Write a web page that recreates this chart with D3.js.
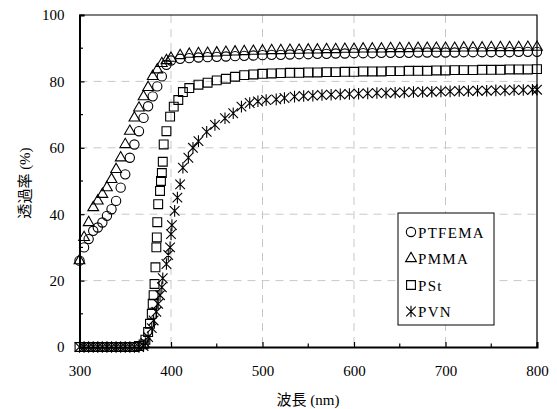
<!DOCTYPE html>
<html>
<head>
<meta charset="utf-8">
<script src="https://cdn.jsdelivr.net/npm/d3@7"></script>
<style>
  body { margin: 0; background: #fff; }
  text { font-family: "Liberation Serif", "Times New Roman", "DejaVu Serif", "Noto Sans CJK JP", serif; fill: #000; }
</style>
</head>
<body>
<div id="root"></div>
<script>
var config = {
  chartWidth: 557,
  chartHeight: 409
};

// wavelength (nm) and transmittance (%) per polymer
const ptfemaX = [300, 305, 310, 315, 320, 325, 330, 335, 340, 345, 350, 355, 360, 365, 370, 375, 380, 385, 390, 395, 400,
  410, 420, 430, 440, 450, 460, 470, 480, 490, 500, 510, 520, 530, 540, 550, 560, 570, 580, 590, 600,
  610, 620, 630, 640, 650, 660, 670, 680, 690, 700, 710, 720, 730, 740, 750, 760, 770, 780, 790, 800];
const ptfemaY = [26, 30, 32.5, 35, 36, 37.5, 39.5, 41.5, 44, 48, 52, 57, 61, 65, 69, 72.5, 75.5, 78.5, 81.5, 85, 86.3,
  86.8, 87, 87.2, 87.3, 87.4, 87.5, 87.6, 87.7, 87.8, 87.9, 88, 88, 88.1, 88.2, 88.2, 88.3, 88.3, 88.4, 88.4, 88.5,
  88.5, 88.5, 88.6, 88.6, 88.6, 88.6, 88.7, 88.7, 88.7, 88.7, 88.7, 88.8, 88.8, 88.8, 88.8, 88.8, 88.8, 88.9, 88.9, 88.9];

const pmmaX = ptfemaX;
const pmmaY = [26, 33, 37.5, 42, 44, 46, 48, 50.5, 53.5, 57, 61, 65, 69, 72, 75.4, 78.2, 81.5, 83.5, 85.4, 86.3, 87,
  87.8, 88.2, 88.4, 88.5, 88.6, 88.8, 88.9, 89, 89.1, 89.2, 89.3, 89.3, 89.4, 89.4, 89.5, 89.5, 89.6, 89.6, 89.7, 89.7,
  89.8, 89.8, 89.8, 89.9, 89.9, 89.9, 90, 90, 90, 90, 90, 90.1, 90.1, 90.1, 90.2, 90.2, 90.2, 90.2, 90.3, 90.3];

const pstX = [300, 305, 310, 315, 320, 325, 330, 335, 340, 345, 350, 355, 360, 365, 370, 372, 375, 377, 379, 380,
  381, 382, 383, 384, 384.5, 385, 386, 388, 389, 390, 391, 392, 395, 399, 403, 408, 413,
  420, 430, 440, 450, 460, 470, 480, 490, 500, 510, 520, 530, 540, 550, 560, 570, 580, 590, 600,
  610, 620, 630, 640, 650, 660, 670, 680, 690, 700, 710, 720, 730, 740, 750, 760, 770, 780, 790, 800];
const pstY = [0, 0, 0, 0, 0, 0, 0, 0, 0, 0, 0, 0, 0, 0.3, 0.8, 2.2, 4.5, 7, 10, 13,
  15.6, 19, 24, 30, 33, 37.6, 43, 47, 50, 52.4, 55.8, 61, 65, 69.4, 72.4, 74.4, 76.8,
  78, 79, 79.6, 80.3, 80.8, 81.4, 81.9, 82.1, 82.3, 82.4, 82.5, 82.6, 82.6, 82.7, 82.7, 82.8, 82.8, 82.9, 82.9,
  83, 83, 83, 83.1, 83.1, 83.2, 83.2, 83.2, 83.3, 83.3, 83.4, 83.4, 83.4, 83.5, 83.5, 83.5, 83.6, 83.6, 83.6, 83.7];

const pvnX = [300, 305, 310, 315, 320, 325, 330, 335, 340, 345, 350, 355, 360, 365, 370, 372, 375, 379, 381, 384,
  386, 388, 390, 391, 395, 397, 399, 400, 401, 404, 407, 410, 413, 419, 424, 430, 439, 448, 459, 468, 477, 486,
  495, 504, 515, 524, 535, 545, 555, 565, 575, 585, 595, 605, 615, 625, 635, 645, 655, 665, 675, 685, 695,
  705, 715, 725, 735, 745, 755, 765, 775, 785, 795, 800];
const pvnY = [0, 0, 0, 0, 0, 0, 0, 0, 0, 0, 0, 0, 0, 0, 0.3, 1.2, 3, 5.7, 8, 10.6,
  13, 15.6, 18, 20.7, 25, 27.7, 30, 34, 36.7, 41, 45, 49, 54, 57, 60, 62, 64.8, 66.9, 68.9, 70.4, 72.4, 73.5,
  74, 74.4, 74.6, 75, 75.4, 75.6, 75.7, 75.9, 76, 76.1, 76.2, 76.3, 76.4, 76.5, 76.5, 76.6, 76.7, 76.8, 76.8, 76.9, 77,
  77, 77.1, 77.1, 77.2, 77.2, 77.3, 77.3, 77.4, 77.4, 77.5, 77.5];

const seriesNames = ['PTFEMA', 'PMMA', 'PSt', 'PVN'];
const xTicks = [300, 400, 500, 600, 700, 800];
const yTicks = [0, 20, 40, 60, 80, 100];
const xLabel = '波長 (nm)';
const yLabel = '透過率 (%)';

const series = [
  {name: seriesNames[0], xs: ptfemaX, ys: ptfemaY, shape: 'circle'},
  {name: seriesNames[1], xs: pmmaX, ys: pmmaY, shape: 'triangle'},
  {name: seriesNames[2], xs: pstX, ys: pstY, shape: 'square'},
  {name: seriesNames[3], xs: pvnX, ys: pvnY, shape: 'star'}
];

const serif = '"Liberation Serif", "Times New Roman", "DejaVu Serif", serif';
const plot = {left: 79.5, right: 537, top: 15, bottom: 347};

const x = d3.scaleLinear().domain([300, 800]).range([plot.left, plot.right]);
const y = d3.scaleLinear().domain([0, 100]).range([plot.bottom, plot.top]);

function markerPath(shape) {
  if (shape === 'circle') return d3.symbol(d3.symbolCircle, 68)();
  if (shape === 'triangle') return d3.symbol(d3.symbolTriangle, 50)();
  if (shape === 'square') return d3.symbol(d3.symbolSquare, 78)();
  // asterisk: X with a vertical bar
  return 'M0,-5.8L0,5.8M-4.8,-4.8L4.8,4.8M-4.8,4.8L4.8,-4.8';
}

const chart = d3.select('#root')
  .append('svg:svg')
  .attr('width', config.chartWidth)
  .attr('height', config.chartHeight);

const layer = {};

// Grid
layer.grid = chart.append('svg:g')
  .attr('stroke', '#c8c8c8')
  .attr('stroke-width', 1)
  .attr('stroke-dasharray', '8,6');
layer.grid.selectAll('.hgrid')
  .data(yTicks.filter(d => d > 0 && d < 100))
  .enter()
    .append('svg:line')
    .attr('x1', plot.left).attr('x2', plot.right)
    .attr('y1', d => y(d)).attr('y2', d => y(d));
layer.grid.selectAll('.vgrid')
  .data(xTicks.filter(d => d > 300 && d < 800))
  .enter()
    .append('svg:line')
    .attr('y1', plot.top).attr('y2', plot.bottom)
    .attr('x1', d => x(d)).attr('x2', d => x(d));

// Frame top / right
chart.append('svg:path')
  .attr('d', `M${plot.left},${plot.top}H${plot.right}V${plot.bottom}`)
  .attr('fill', 'none')
  .attr('stroke', '#000')
  .attr('stroke-width', 1.2);

// Axes with inward ticks
const xAxis = d3.axisBottom(x).tickValues(xTicks).tickSize(-5).tickPadding(14).tickFormat(d3.format('d'));
const yAxis = d3.axisLeft(y).tickValues(yTicks).tickSize(-5).tickPadding(14).tickFormat(d3.format('d'));

layer.xAxis = chart.append('svg:g')
  .attr('transform', `translate(0,${plot.bottom})`)
  .call(xAxis);
layer.yAxis = chart.append('svg:g')
  .attr('transform', `translate(${plot.left},0)`)
  .call(yAxis);

[layer.xAxis, layer.yAxis].forEach(g => {
  g.attr('font-family', serif);
  g.select('.domain').attr('stroke-width', 2).attr('stroke', '#000');
  g.selectAll('.tick line').attr('stroke-width', 1.2).attr('stroke', '#000');
  g.selectAll('.tick text')
    .style('font-family', serif)
    .style('font-size', '15px')
    .attr('fill', '#000');
});
layer.xAxis.selectAll('.tick text').attr('dy', '0.71em').attr('y', 18);
layer.yAxis.selectAll('.tick text').attr('x', -15);

// minor ticks
const xMinor = d3.range(350, 800, 100);
const yMinor = d3.range(10, 100, 20);
chart.append('svg:g').selectAll('line')
  .data(xMinor)
  .enter()
    .append('svg:line')
    .attr('x1', d => x(d)).attr('x2', d => x(d))
    .attr('y1', plot.bottom).attr('y2', plot.bottom - 3.5)
    .attr('stroke', '#000').attr('stroke-width', 1.2);
chart.append('svg:g').selectAll('line')
  .data(yMinor)
  .enter()
    .append('svg:line')
    .attr('y1', d => y(d)).attr('y2', d => y(d))
    .attr('x1', plot.left).attr('x2', plot.left + 3.5)
    .attr('stroke', '#000').attr('stroke-width', 1.2);

// Axis titles
chart.append('svg:text')
  .attr('x', 308).attr('y', 405)
  .attr('text-anchor', 'middle')
  .style('font-size', '15px')
  .text(xLabel);
chart.append('svg:text')
  .attr('transform', 'translate(30,183) rotate(-90)')
  .attr('text-anchor', 'middle')
  .style('font-size', '15px')
  .text(yLabel);

// Markers
layer.points = chart.append('svg:g');
series.forEach(s => {
  const pts = s.xs.map((v, i) => [v, s.ys[i]]);
  layer.points.append('svg:g')
    .selectAll('path')
    .data(pts)
    .enter()
      .append('svg:path')
      .attr('d', markerPath(s.shape))
      .attr('transform', d => `translate(${x(d[0])},${y(d[1])})`)
      .attr('fill', 'none')
      .attr('stroke', '#000')
      .attr('stroke-width', 1.1);
});

// Legend
const legend = chart.append('svg:g').attr('transform', 'translate(398,213)');
legend.append('svg:rect')
  .attr('width', 96).attr('height', 112)
  .attr('fill', '#fff')
  .attr('stroke', '#000')
  .attr('stroke-width', 1);
legend.selectAll('.item')
  .data(series)
  .enter()
    .append('svg:g')
    .attr('transform', (d, i) => `translate(13,${19 + i * 26.5})`)
    .each(function (d) {
      const g = d3.select(this);
      g.append('svg:path')
        .attr('d', markerPath(d.shape))
        .attr('fill', 'none')
        .attr('stroke', '#000')
        .attr('stroke-width', 1.1);
      g.append('svg:text')
        .attr('x', 7).attr('y', 5.5)
        .style('font-size', '15px')
        .style('letter-spacing', '1.3px')
        .text(d.name);
    });
</script>
</body>
</html>
